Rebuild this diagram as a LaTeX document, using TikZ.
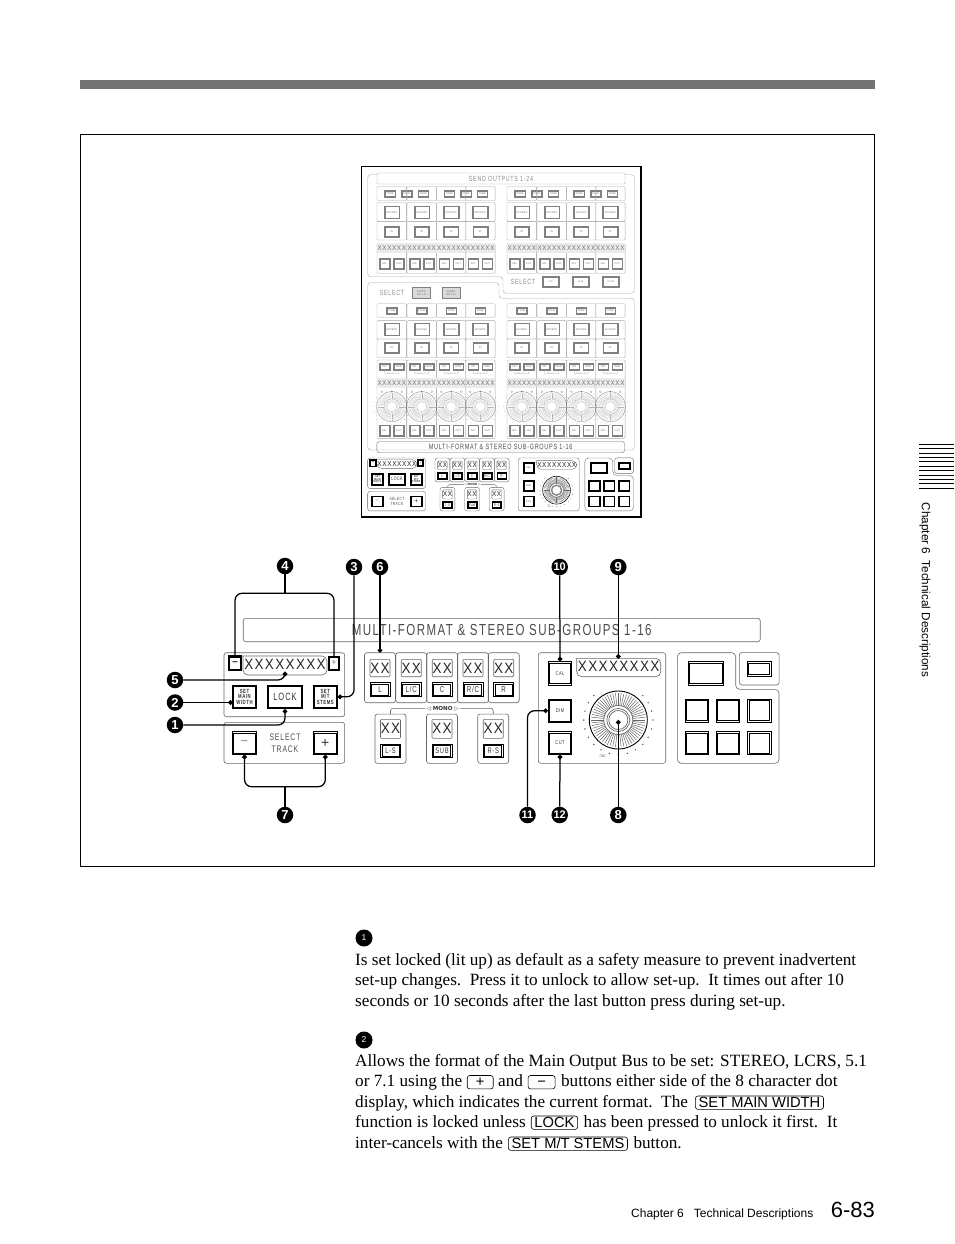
\documentclass[tikz,border=0pt]{standalone}
\usepackage{fontspec}
\setmainfont{Liberation Serif}
\setsansfont{Liberation Sans}
\newfontfamily\panelfont[FakeStretch=0.72,LetterSpace=9]{Liberation Sans}
\newfontfamily\readoutfont[FakeStretch=0.9,LetterSpace=9]{Liberation Sans}
\newfontfamily\symfont{DejaVu Sans}
\usetikzlibrary{arrows.meta,positioning}
\newcommand{\pw}{1}
\newcommand{\fs}[1]{\fontsize{#1}{#1}\selectfont}
\tikzset{
  panel/.style={draw=black!60, line width=\pw*0.6pt, rounded corners=2.5pt},
  btn/.style={draw=black, line width=\pw*0.8pt, inner sep=0pt, align=center, text=black!80,
    append after command={\pgfextra{\draw[name prefix=, line width=\pw*0.7pt, draw=black]
      ([shift={(1.8,1.8)}]\tikzlastnode.north west) rectangle ([shift={(-1.8,-1.8)}]\tikzlastnode.south east);}}},
  readout/.style={inner sep=0pt, text=black!85, font=\readoutfont\fs{15}},
  tag/.style={inner sep=0pt, align=center, text=black!70, font=\panelfont\fs{9.5}},
  dialslot/.style={draw=black!60, line width=\pw*0.5pt},
  dialrim/.style={draw=black, line width=\pw*0.9pt},
  dialhub/.style={draw=black!60, line width=\pw*0.7pt},
  faint/.style={draw=black!35, line width=0.35pt, rounded corners=1pt},
  fbtn/.style={draw=black!50, line width=0.45pt, inner sep=0pt, text=black!55, font=\sffamily\fs{2.6},
    append after command={\pgfextra{\draw[black!50, line width=0.3pt]
      ([shift={(0.9,0.9)}]\tikzlastnode.north west) rectangle ([shift={(-0.9,-0.9)}]\tikzlastnode.south east);}}},
  ftag/.style={inner sep=0pt, text=black!45, font=\panelfont\fs{2.6}},
  callout/.style={circle, fill=black, text=white, inner sep=0pt, minimum size=16.5pt,
    font=\sffamily\bfseries\fs{13}},
  twodigit/.style={callout, font=\sffamily\bfseries\fs{11}},
  leader/.style={draw=black, line width=1.25pt, rounded corners=7pt},
  pinned/.style={leader, -{Circle[length=4.6pt,width=4.6pt]}},
  bodyline/.style={anchor=base west, inner sep=0pt, font=\fs{17.2}},
  keycap/.style={draw=black, line width=0.6pt, rounded corners=2.5pt, anchor=base west,
    inner xsep=3.2pt, inner ysep=1.2pt, text height=9.8pt, text depth=1.2pt, font=\sffamily\fs{14.7}},
}
\newcommand{\dialface}[3]{%
  \begin{scope}[shift={(#1,#2)},scale=#3]
  \foreach \a in {0,6,...,354} \draw[dialslot] (\a:14.5) -- (\a:27);
  \draw[dialrim] (0,0) circle (29);
  \draw[dialhub] (0,0) circle (14.5) (0,0) circle (11.5) (0,0) circle (9.5);
  \foreach \a in {-135,-120,...,135} \fill[black!70] (90+\a:34.5) circle (0.8);
  \end{scope}}
\newcommand{\controlstrip}{%
  \node[panel, minimum width=517, minimum height=23.4, font=\panelfont\fs{16}, text=black!70] (titlebar) at (501.7,630) {MULTI-FORMAT \& STEREO SUB-GROUPS 1-16};
  \node[panel, minimum width=120.7, minimum height=64] (mainpanel) at (284.3,684.7) {};
  \node[panel, minimum width=120.7, minimum height=41] (trackpanel) at (284.3,742.8) {};
  \draw[panel, rounded corners=5pt] (243,656) -- (243,675) -- (327,675) -- (327,656) [sharp corners] -- cycle;
  \node[readout] (maindisp) at (285,664.5) {XXXXXXXX};
  \node[btn, minimum width=13, minimum height=14.5, line width=\pw*1.3pt, font=\sffamily\bfseries\fs{10}] (minus) at (235,663.3) {−};
  \node[btn, minimum width=11.7, minimum height=14, text=black!50, font=\sffamily\fs{9}] (plus) at (334,663.3) {+};
  \node[btn, minimum width=24.4, minimum height=23.7, font=\panelfont\bfseries\fs{6}] (mainwidth) at (244.5,696.8) {SET\\[-0.3pt]MAIN\\[-0.3pt]WIDTH};
  \node[btn, minimum width=35.4, minimum height=23.7, font=\panelfont\fs{10.5}] (lock) at (285,696.8) {LOCK};
  \node[btn, minimum width=24, minimum height=23.7, font=\panelfont\bfseries\fs{6}] (mtstems) at (325.3,696.8) {SET\\[-0.3pt]M/T\\[-0.3pt]STEMS};
  \node[btn, minimum width=24.4, minimum height=22.6, text=black!50, font=\sffamily\fs{13}] (trackdown) at (244.5,743) {−};
  \node[btn, minimum width=24, minimum height=22.6, font=\sffamily\fs{14}] (trackup) at (325.3,743) {+};
  \node[tag] (tracktag) at (285,743) {SELECT\\[2pt]TRACK};
  \foreach \cx/\cl [count=\cn] in {380/L, 411.2/{L/C}, 442.2/C, 473/{R/C}, 503.7/R}{
    \node[panel, minimum width=31, minimum height=50] (cell\cn) at (\cx,677.7) {};
    \node[panel, minimum width=20, minimum height=17.4, rounded corners=1pt, readout] (cellxx\cn) at (\cx,668) {XX};
    \node[btn, minimum width=20, minimum height=14, font=\panelfont\fs{8.5}] (cellkey\cn) at (\cx,689.7) {\cl};
  }
  \foreach \cx/\cl [count=\cn] in {390.5/L-S, 442/SUB, 493.2/R-S}{
    \node[panel, minimum width=31, minimum height=49.3] (mono\cn) at (\cx,738.7) {};
    \node[panel, minimum width=20, minimum height=19, rounded corners=1pt, readout] (monoxx\cn) at (\cx,728.8) {XX};
    \node[btn, minimum width=20, minimum height=13.5, font=\panelfont\fs{8}] (monokey\cn) at (\cx,750.8) {\cl};
  }
  \node[inner sep=1pt, font=\symfont\bfseries\fs{5.6}, text=black!80] (monotag) at (442.7,708.3) {◁ MONO ▷};
  \draw[panel] (mono1.north) |- (monotag.west);
  \draw[panel] (mono3.north) |- (monotag.east);
  \node[panel, minimum width=127.4, minimum height=110.6] (monpanel) at (602,708) {};
  \node[btn, minimum width=23.4, minimum height=23.3, font=\panelfont\fs{5.5}] (cal) at (560,673.4) {CAL};
  \node[btn, minimum width=23.4, minimum height=23.3, font=\panelfont\fs{5.5}] (dim) at (560,710.7) {DIM};
  \node[btn, minimum width=23.4, minimum height=22.6, font=\panelfont\fs{5.5}] (cut) at (560,743) {CUT};
  \draw[panel, rounded corners=5pt] (576.7,658.3) -- (576.7,676.7) -- (660.7,676.7) -- (660.7,658.3) [sharp corners] -- cycle;
  \node[readout] (mondisp) at (618.7,666.5) {XXXXXXXX};
  \dialface{618.3}{720}{1}
  \node[inner sep=0pt, text=black!70, font=\sffamily\fs{6}] (dialtag) at (602.7,755.7) {$\infty$};
  \draw[panel, rounded corners=4pt] (677.3,652.7) -- (735.7,652.7) -- (735.7,689.3) -- (779,689.3) -- (779,763.3) -- (677.3,763.3) -- cycle;
  \node[panel, minimum width=39.7, minimum height=32.3] (smallbay) at (759.2,668.8) {};
  \node[btn, minimum width=35, minimum height=23.3] (widekey) at (705.8,673.4) {};
  \node[btn, minimum width=23.7, minimum height=14.3] (smallkey) at (759.2,668.8) {};
  \foreach \ky [count=\kr] in {710.7,743}
    \foreach \kx [count=\kc] in {697,728,759.2}
      \node[btn, minimum width=23.4, minimum height=22.8] (pad\kr\kc) at (\kx,\ky) {};
}
\begin{document}
\begin{tikzpicture}[x=1pt,y=-1pt,font=\rmfamily]
\useasboundingbox (0,0) rectangle (954,1244);
\fill[black!55] (80,80) rectangle (875,89.5);
\draw[line width=0.8pt] (80.5,134.5) rectangle (874.5,866.5);

\draw[line width=1.4pt] (361.3,166.7) rectangle (640.8,517);
\draw[faint, rounded corners=3pt] (377,174.7) -- (367.7,174.7) -- (367.7,276.7) -- (503,276.7) -- (503,293.3) -- (634.3,293.3) -- (634.3,174.7) -- (625,174.7);
\draw[faint, rounded corners=3pt] (367.7,282.7) -- (499,282.7) -- (499,298.3) -- (634.3,298.3) -- (634.3,450) -- (367.7,450) -- cycle;
\node[faint, minimum width=248, minimum height=11, ftag, font=\panelfont\fs{7.5}] (sendbar) at (501,178.5) {SEND OUTPUTS 1-24};
\foreach \bx [count=\bn] in {390,406.7,423.3,449.3,466,482.3,520,536.7,553.3,579,595.7,612.3}
  \node[fbtn, minimum width=10.7, minimum height=6.7] (sendtone\bn) at (\bx,193.5) {TONE};
\foreach \cx [count=\cn] in {391.8,421.7,451.2,480.3,521.8,551.7,581.2,610.3}{
  \node[faint, minimum width=29.6, minimum height=14] (sendcella\cn) at (\cx,193.5) {};
  \node[faint, minimum width=29.6, minimum height=18.6] (sendcellb\cn) at (\cx,212) {};
  \node[faint, minimum width=29.6, minimum height=18.7] (sendcellc\cn) at (\cx,230.7) {};
  \node[faint, minimum width=29.6, minimum height=30] (sendcelld\cn) at (\cx,258.3) {};
  \node[fbtn, minimum width=15.3, minimum height=12.7] (sendaccess\cn) at (\cx,212.3) {ACCESS};
  \node[fbtn, minimum width=15, minimum height=10.7] (sendin\cn) at (\cx,231.5) {IN};
  \node[fill=black!8, minimum width=29.6, minimum height=10, ftag, text=black!55, font=\readoutfont\fs{7}] (senddisp\cn) at (\cx,248.3) {XXXXXX};
  \node[fbtn, minimum width=10.7, minimum height=11] (sendafl\cn) at (\cx-7,263.5) {AFL};
  \node[fbtn, minimum width=10.7, minimum height=11] (sendcut\cn) at (\cx+7,263.5) {CUT};
}
\node[ftag, font=\panelfont\fs{7.5}] (sendselect) at (523,282) {SELECT};
\node[fbtn, minimum width=16.7, minimum height=10.6] (bank1) at (550.6,282) {1-8};
\node[fbtn, minimum width=16.7, minimum height=10.6] (bank2) at (580.6,282) {9-16};
\node[fbtn, minimum width=16.7, minimum height=10.6] (bank3) at (610.6,282) {17-24};
\node[ftag, font=\panelfont\fs{7.5}] (subselect) at (392,292.7) {SELECT};
\node[fbtn, fill=black!15, minimum width=17.3, minimum height=10.6, align=center] (super1) at (421.3,293) {SUPER\\GR 1-8};
\node[fbtn, fill=black!15, minimum width=17.6, minimum height=10.6, align=center] (super2) at (451.1,293) {SUPER\\GR 9-16};
\foreach \cx [count=\cn] in {391.8,421.7,451.2,480.3,521.8,551.7,581.2,610.3}{
  \node[faint, minimum width=29.6, minimum height=13.6] (subcella\cn) at (\cx,310.5) {};
  \node[faint, minimum width=29.6, minimum height=18.3] (subcellb\cn) at (\cx,329.8) {};
  \node[faint, minimum width=29.6, minimum height=18.7] (subcellc\cn) at (\cx,348.4) {};
  \node[faint, minimum width=29.6, minimum height=78.3] (subcelld\cn) at (\cx,399.2) {};
  \node[fbtn, minimum width=10.7, minimum height=6.7] (subtone\cn) at (\cx,310.7) {TONE};
  \node[fbtn, minimum width=15.3, minimum height=12.7] (subaccess\cn) at (\cx,329.3) {ACCESS};
  \node[fbtn, minimum width=15, minimum height=10.7] (subin\cn) at (\cx,347.7) {IN};
  \node[fbtn, minimum width=10.7, minimum height=6.3] (subint\cn) at (\cx-7,366.7) {INT};
  \node[fbtn, minimum width=10.7, minimum height=6.3] (subwar\cn) at (\cx+7,366.7) {WAR};
  \node[ftag, font=\sffamily\fs{2.4}] (substereo\cn) at (\cx,374) {Stereo In};
  \draw[faint] (subint\cn.south) |- (substereo\cn.west);
  \draw[faint] (subwar\cn.south) |- (substereo\cn.east);
  \node[fill=black!8, minimum width=29.6, minimum height=9.4, ftag, text=black!55, font=\readoutfont\fs{7}] (subdisp\cn) at (\cx,382.8) {XXXXXX};
  \fill[black!40] (\cx,391.7) circle (0.9);
  \draw[black!35, line width=0.3pt] (\cx-10,391.7) circle (0.9) (\cx+10,391.7) circle (0.9);
  \renewcommand{\pw}{0.45}
  \begin{scope}[opacity=0.42]
  \dialface{\cx}{406.7}{0.52}
  \end{scope}
  \renewcommand{\pw}{1}
  \node[fbtn, minimum width=10.7, minimum height=11] (subafl\cn) at (\cx-7,430.3) {AFL};
  \node[fbtn, minimum width=10.7, minimum height=11] (subcut\cn) at (\cx+7,430.3) {CUT};
}
\renewcommand{\pw}{0.6}
\begin{scope}[shift={(260.4,145.3)},scale=0.479,transform shape,name prefix=mini-]
\controlstrip
\end{scope}
\renewcommand{\pw}{1}

\controlstrip
\node[callout] (num4) at (285,566) {4};
\node[callout] (num3) at (354,567) {3};
\node[callout] (num6) at (380,567) {6};
\node[twodigit] (num10) at (559.7,567) {10};
\node[callout] (num9) at (618.3,567) {9};
\node[callout] (num5) at (175,680) {5};
\node[callout] (num2) at (175,702.5) {2};
\node[callout] (num1) at (175,725) {1};
\node[callout] (num7) at (285,815) {7};
\node[twodigit] (num11) at (527.5,815) {11};
\node[twodigit] (num12) at (559.7,815) {12};
\node[callout] (num8) at (618.3,815) {8};
\coordinate (fork4) at (285,593.3);
\coordinate (fork7) at (285,786.7);
\coordinate (pin5) at (285,671.7);
\coordinate (pin2) at (232.8,702.5);
\coordinate (pin6) at (380,652.7);
\coordinate (pin9) at (618.3,658.7);
\coordinate (pin8) at (618.3,720);
\draw[leader] (num4) -- (fork4);
\draw[leader] (fork4) -| (minus.north);
\draw[leader] (fork4) -| (plus.north);
\draw[pinned] (num3) |- (mtstems.east);
\draw[pinned] (num6) -- (pin6);
\draw[pinned] (num5) -| (pin5);
\draw[pinned] (num2) -- (pin2);
\draw[pinned] (num1) -| (lock.south);
\draw[leader] (num7) -- (fork7);
\draw[pinned] (fork7) -| (trackdown.south);
\draw[pinned] (fork7) -| (trackup.south);
\draw[pinned] (num10) -- (cal.north);
\draw[pinned] (num9) -- (pin9);
\draw[pinned] (num8) -- (pin8);
\draw[pinned] (num11) |- (dim.west);
\draw[pinned] (num12) -- (cut.south);

\foreach \hy [count=\hn] in {444,448.5,453,457.4,461.8,466.2,470.6,475,479.4,483.8,488.2}
  \draw[line width=0.8pt] (919,\hy) -- (954,\hy);
\node[rotate=-90, inner sep=0pt, font=\sffamily\fs{11.7}] (sidetag) at (925,590) {Chapter 6\ \ Technical Descriptions};

\node[callout, minimum size=17pt, font=\sffamily\fs{8.5}] (bodynum1) at (364,938) {1};
\node[bodyline] (para1a) at (355,965) {Is set locked (lit up) as default as a safety measure to prevent inadvertent};
\node[bodyline] (para1b) at (355,985.5) {set-up changes.\ \ Press it to unlock to allow set-up.\ \ It times out after 10};
\node[bodyline] (para1c) at (355,1006) {seconds or 10 seconds after the last button press during set-up.};
\node[callout, minimum size=17pt, font=\sffamily\fs{8.5}] (bodynum2) at (364,1040) {2};
\node[bodyline] (para2a) at (355,1066) {Allows the format of the Main Output Bus to be set: STEREO, LCRS, 5.1};
\node[bodyline] (para2b) at (355,1086.5) {or 7.1 using the};
\node[keycap, at={(para2b.base east)}, xshift=4.5pt, minimum width=26, align=center] (keyplus) {+};
\node[bodyline, at={(keyplus.base east)}, xshift=4.5pt] (para2c) {and};
\node[keycap, at={(para2c.base east)}, xshift=4.5pt, minimum width=27, align=center] (keyminus) {−};
\node[bodyline, at={(keyminus.base east)}, xshift=5.5pt] (para2d) {buttons either side of the 8 character dot};
\node[bodyline] (para2e) at (355,1107) {display, which indicates the current format.\ \ The};
\node[keycap, at={(para2e.base east)}, xshift=7pt] (keywidth) {SET MAIN WIDTH};
\node[bodyline] (para2f) at (355,1127) {function is locked unless};
\node[keycap, at={(para2f.base east)}, xshift=5pt] (keylock) {LOCK};
\node[bodyline, at={(keylock.base east)}, xshift=5.5pt] (para2g) {has been pressed to unlock it first.\ \ It};
\node[bodyline] (para2h) at (355,1148) {inter-cancels with the};
\node[keycap, at={(para2h.base east)}, xshift=5pt] (keystems) {SET M/T STEMS};
\node[bodyline, at={(keystems.base east)}, xshift=5.5pt] (para2i) {button.};

\node[anchor=base west, inner sep=0pt, font=\sffamily\fs{12}] (foottag) at (631,1217) {Chapter 6\ \ \ Technical Descriptions};
\node[anchor=base east, inner sep=0pt, font=\sffamily\fs{22}] (pagenum) at (875,1217) {6-83};
\end{tikzpicture}
\end{document}
